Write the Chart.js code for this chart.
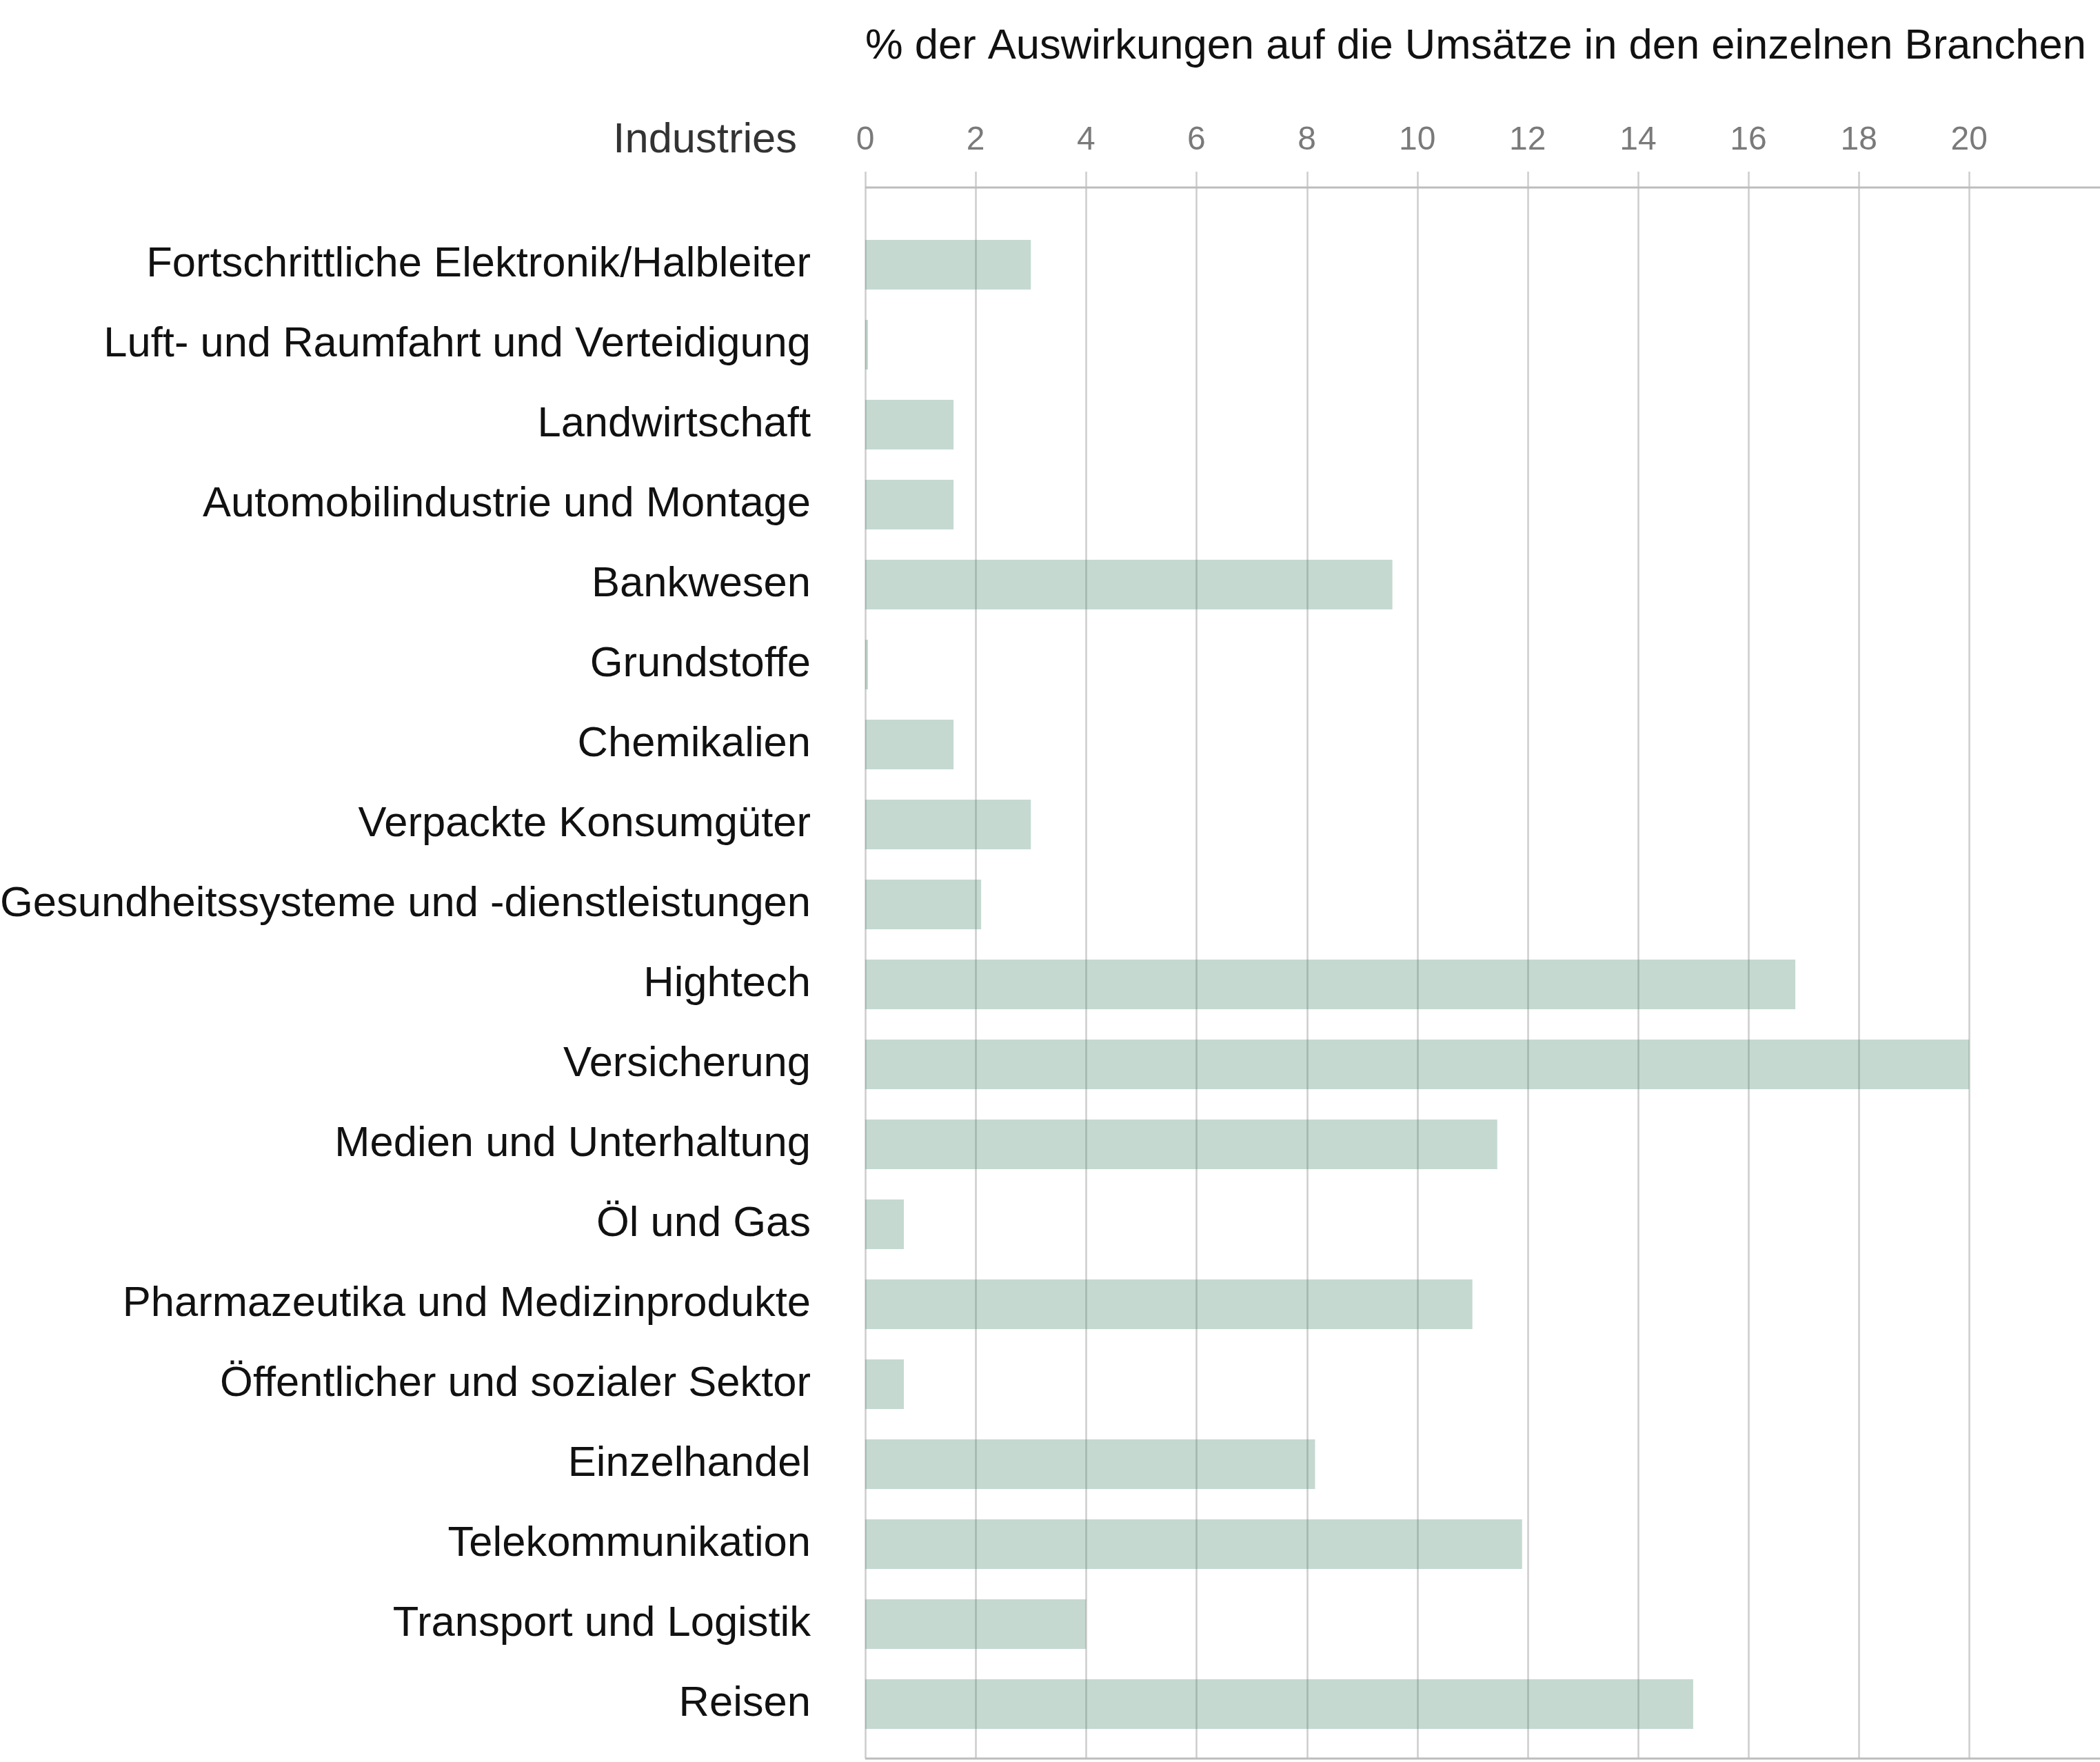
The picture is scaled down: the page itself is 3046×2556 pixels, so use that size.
<!DOCTYPE html>
<html lang="de">
<head>
  <meta charset="UTF-8" />
  <title>Auswirkungen auf die Umsätze</title>
  <script src="https://cdn.jsdelivr.net/npm/chart.js"></script>
  <style>
    html, body {
      margin: 0;
      padding: 0;
      background: #ffffff;
    }
    #wrap {
      width: 3046px;
      height: 2556px;
    }
  </style>
</head>
<body>
  <div id="wrap">
    <canvas id="impactChart" width="3046" height="2556"></canvas>
  </div>

  <script>
    const industries = [
      "Fortschrittliche Elektronik/Halbleiter",
      "Luft- und Raumfahrt und Verteidigung",
      "Landwirtschaft",
      "Automobilindustrie und Montage",
      "Bankwesen",
      "Grundstoffe",
      "Chemikalien",
      "Verpackte Konsumgüter",
      "Gesundheitssysteme und -dienstleistungen",
      "Hightech",
      "Versicherung",
      "Medien und Unterhaltung",
      "Öl und Gas",
      "Pharmazeutika und Medizinprodukte",
      "Öffentlicher und sozialer Sektor",
      "Einzelhandel",
      "Telekommunikation",
      "Transport und Logistik",
      "Reisen"
    ];
    const impactValues = [3.0, 0.05, 1.6, 1.6, 9.55, 0.05, 1.6, 3.0, 2.1, 16.85, 20.0, 11.45, 0.7, 11.0, 0.7, 8.15, 11.9, 4.0, 15.0];
    const tickValues = [0, 2, 4, 6, 8, 10, 12, 14, 16, 18, 20];

    const axisTitle = "% der Auswirkungen auf die Umsätze in den einzelnen Branchen";
    const categoryHeader = "Industries";

    const font = "'Liberation Sans', Arial, sans-serif";

    // grid lines + the two horizontal rules, drawn under the (translucent) bars
    const framePlugin = {
      id: "frame",
      beforeDatasetsDraw(chart) {
        const { ctx, chartArea, scales } = chart;
        const top = chartArea.top - 77;
        const bottom = chartArea.bottom + 21;
        ctx.save();
        ctx.strokeStyle = "#cdcdcd";
        ctx.lineWidth = 2.5;
        scales.x.ticks.forEach(t => {
          const x = Math.round(scales.x.getPixelForValue(t.value)) + 0.5;
          ctx.beginPath();
          ctx.moveTo(x, top);
          ctx.lineTo(x, bottom);
          ctx.stroke();
        });
        ctx.strokeStyle = "#bdbdbd";
        ctx.lineWidth = 3;
        [chartArea.top - 54, bottom].forEach(y => {
          ctx.beginPath();
          ctx.moveTo(chartArea.left, y);
          ctx.lineTo(chart.width, y);
          ctx.stroke();
        });
        ctx.restore();
      },
      afterDraw(chart) {
        const { ctx } = chart;
        ctx.save();
        ctx.font = "61.5px " + font;
        ctx.fillStyle = "#333333";
        ctx.textAlign = "right";
        ctx.textBaseline = "middle";
        ctx.fillText(categoryHeader, 1156, 204);
        ctx.restore();
      }
    };

    new Chart(document.getElementById("impactChart"), {
      type: "bar",
      data: {
        labels: industries,
        datasets: [{
          data: impactValues,
          backgroundColor: "rgba(78, 141, 114, 0.33)",
          borderWidth: 0,
          categoryPercentage: 1,
          barPercentage: 0.62
        }]
      },
      options: {
        indexAxis: "y",
        responsive: false,
        devicePixelRatio: 1,
        animation: false,
        layout: { padding: { top: 0, right: 0, bottom: 26, left: 0 } },
        plugins: {
          legend: { display: false },
          tooltip: { enabled: false }
        },
        scales: {
          x: {
            position: "top",
            min: 0,
            max: 22.37,
            afterBuildTicks: scale => {
              scale.ticks = tickValues.map(v => ({ value: v }));
            },
            afterFit: scale => {
              scale.height = 326;
              scale.paddingLeft = 0;
              scale.paddingRight = 0;
            },
            grid: { display: false, drawTicks: false },
            border: { display: false },
            ticks: {
              padding: 93,
              color: "#7a7a7a",
              font: { family: font, size: 48 }
            },
            title: {
              display: true,
              text: axisTitle,
              align: "start",
              color: "#111111",
              padding: { top: 31, bottom: 0 },
              font: { family: font, size: 61.5 }
            }
          },
          y: {
            afterFit: scale => {
              scale.width = 1255;
              scale.paddingTop = 0;
              scale.paddingBottom = 0;
            },
            grid: { display: false, drawTicks: false },
            border: { display: false },
            ticks: {
              padding: 79,
              color: "#111111",
              font: { family: font, size: 61.5 }
            }
          }
        }
      },
      plugins: [framePlugin]
    });
  </script>
</body>
</html>
